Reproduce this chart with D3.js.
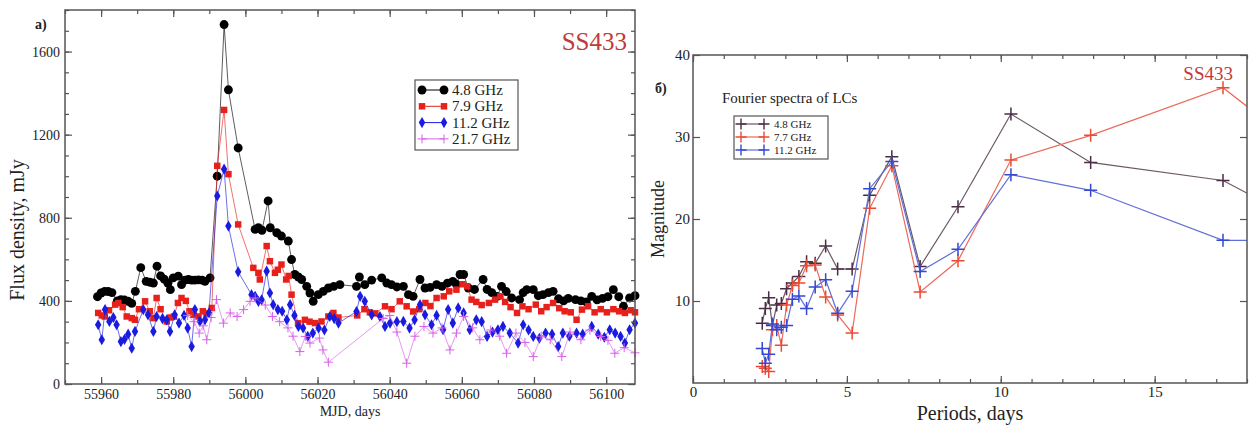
<!DOCTYPE html>
<meta charset="utf-8">
<head>
<style>
  body { margin: 0; background: #fff; }
  text { font-family: "Liberation Serif", "Times New Roman", serif; fill: #222; }
</style>
</head>

<script src="https://d3js.org/d3.v7.min.js"></script>

<body>
  <div id="chart"></div>
</body>

<script>

// ---------- panel a) light curves, MJD vs flux (mJy) ----------
var mjd48 = [55959, 55960, 55961, 55962, 55963, 55964.5, 55965.5, 55966.5, 55967.5, 55968.5, 55969.5, 55971, 55972.5, 55973.5, 55974.5, 55975.5, 55976.5, 55977.5, 55978.5, 55979.2, 55980, 55981.4, 55982.3, 55983.3, 55984.2, 55985.1, 55986, 55987, 55988, 55988.8, 55990.2, 55992.2, 55994.1, 55995.3, 55998, 56002.7, 56003.6, 56004.6, 56006.3, 56006.9, 56008.7, 56010, 56011.9, 56012.8, 56013.7, 56014.7, 56015.6, 56017, 56017.9, 56018.8, 56020.2, 56021.6, 56023, 56024.5, 56026.2, 56030.8, 56031.6, 56033.1, 56035, 56037.8, 56039.2, 56040.5, 56042, 56043.8, 56045.2, 56046.5, 56048.4, 56049.8, 56051.2, 56053, 56054.5, 56056, 56057.5, 56058.5, 56059.5, 56060.5, 56061.8, 56063.5, 56065.9, 56067, 56068.3, 56069.8, 56071, 56072.3, 56073.8, 56076, 56077, 56078, 56079.8, 56081.2, 56082.5, 56084, 56085.3, 56086.8, 56088.2, 56089.5, 56091.5, 56093, 56094.5, 56096, 56097.5, 56099, 56100.5, 56102, 56103.5, 56104.8, 56106.5, 56108];
var flux48 = [420, 438, 446, 445, 440, 400, 406, 404, 398, 388, 446, 560, 494, 490, 486, 567, 520, 505, 486, 454, 511, 519, 478, 500, 503, 500, 500, 501, 500, 494, 511, 1000, 1730, 1416, 1136, 744, 752, 740, 881, 752, 728, 712, 688, 599, 527, 515, 503, 470, 438, 398, 430, 446, 462, 470, 478, 470, 515, 478, 500, 511, 486, 478, 467, 470, 430, 422, 503, 462, 465, 478, 470, 485, 494, 480, 527, 527, 462, 455, 503, 455, 440, 422, 470, 445, 414, 406, 440, 454, 454, 425, 430, 440, 446, 410, 400, 412, 406, 400, 395, 422, 405, 412, 420, 454, 420, 374, 414, 425];

var mjd79 = [55959.2, 55960.2, 55961, 55962.2, 55963.9, 55964.8, 55966, 55967.1, 55968.5, 55969.4, 55970.5, 55972.2, 55973.5, 55974.5, 55975.4, 55976.5, 55978.2, 55979.2, 55980.2, 55981.3, 55982.3, 55983.5, 55984.5, 55985.6, 55987, 55988.2, 55989.2, 55990.7, 55992.2, 55994.1, 55995.3, 55998, 56002.2, 56003.6, 56004, 56005.9, 56006.8, 56008.2, 56009, 56010, 56011.3, 56012, 56012.8, 56014.6, 56016.5, 56017.8, 56019.3, 56021.1, 56023, 56024.4, 56025.8, 56031, 56033, 56034.5, 56036, 56038.7, 56040.5, 56042.8, 56044.7, 56046.5, 56048.2, 56049.9, 56051.3, 56053, 56055, 56056.5, 56058.5, 56060.2, 56061.5, 56062.7, 56064, 56065.5, 56067.5, 56069.2, 56070.7, 56072, 56073.5, 56075.3, 56076.8, 56078.5, 56080.5, 56082, 56083.5, 56085.3, 56087, 56088.5, 56090.2, 56091.8, 56093.3, 56095, 56096.8, 56098.5, 56100.2, 56102, 56103.6, 56105.2, 56106.8, 56108];
var flux79 = [342, 330, 325, 355, 382, 390, 370, 325, 317, 309, 360, 398, 350, 317, 414, 360, 301, 320, 325, 390, 414, 400, 350, 333, 325, 350, 340, 366, 1050, 1319, 1010, 768, 559, 535, 503, 664, 591, 535, 550, 575, 503, 520, 430, 293, 309, 300, 293, 301, 325, 342, 320, 330, 360, 345, 340, 374, 360, 398, 374, 349, 360, 390, 375, 414, 422, 446, 454, 480, 470, 406, 395, 380, 390, 406, 422, 395, 370, 342, 374, 360, 382, 350, 370, 390, 365, 350, 345, 309, 358, 374, 345, 360, 345, 360, 350, 342, 355, 345];

var mjd112 = [55959.2, 55960.2, 55961.1, 55962.3, 55963.4, 55964.3, 55965.5, 55966.5, 55967.5, 55968.5, 55969.4, 55971.7, 55973, 55974.5, 55975.4, 55977, 55978.2, 55979.1, 55980.4, 55981.6, 55983, 55984, 55985.1, 55986, 55987.4, 55988.8, 55989.9, 55992.2, 55994.1, 55995.3, 55998, 56001.7, 56002.7, 56003.6, 56004.5, 56005.9, 56006.8, 56007.7, 56009, 56010.2, 56011.5, 56012.4, 56013.6, 56014.7, 56016, 56017.3, 56018.7, 56020.3, 56021.9, 56023.4, 56024.6, 56025.8, 56030.8, 56031.8, 56033.1, 56035, 56037.3, 56038.7, 56040.1, 56042, 56043.8, 56045.5, 56046.9, 56048.4, 56049.8, 56051.6, 56053, 56054.8, 56056.2, 56057.5, 56059, 56060.5, 56062.2, 56064, 56065.5, 56067, 56068.5, 56070, 56071.4, 56073.3, 56075.6, 56077, 56078.5, 56079.8, 56081.5, 56083.2, 56085, 56086.7, 56088, 56089.8, 56091.8, 56093.5, 56096, 56097.8, 56099.5, 56101, 56102.5, 56104, 56105.2, 56106.5, 56108];
var flux112 = [285, 213, 358, 301, 320, 285, 204, 215, 240, 172, 253, 358, 333, 253, 325, 315, 309, 253, 333, 293, 330, 269, 180, 358, 301, 309, 342, 905, 1034, 760, 540, 430, 422, 398, 405, 543, 438, 382, 358, 350, 309, 382, 330, 277, 270, 229, 245, 269, 260, 325, 315, 293, 349, 422, 398, 333, 325, 277, 293, 300, 301, 269, 309, 382, 333, 285, 330, 261, 358, 293, 366, 342, 261, 309, 300, 229, 250, 261, 277, 245, 197, 285, 260, 229, 220, 245, 240, 180, 245, 230, 245, 240, 277, 240, 225, 261, 245, 229, 197, 261, 293];

var mjd217 = [55984, 55985.8, 55987.2, 55988.3, 55989.3, 55990.5, 55992, 55993.9, 55995.8, 55997.7, 55999.5, 56001.3, 56002.7, 56005.5, 56007.5, 56009.5, 56011.8, 56013.2, 56015.1, 56016.6, 56017.9, 56020.5, 56021.5, 56023, 56038.2, 56040, 56042, 56044.7, 56047, 56049.5, 56052, 56054.5, 56056.7, 56058.5, 56060.5, 56063, 56065, 56068, 56070.5, 56072.4, 56075, 56077.5, 56079.8, 56082, 56084.5, 56087.7, 56090, 56093, 56095.5, 56098.5, 56100.5, 56102.4, 56105, 56108];
var flux217 = [330, 300, 245, 280, 213, 320, 406, 293, 342, 325, 358, 398, 414, 380, 325, 300, 270, 230, 156, 229, 197, 221, 164, 105, 315, 330, 250, 100, 230, 277, 245, 270, 164, 245, 325, 270, 213, 260, 230, 148, 245, 200, 132, 230, 213, 132, 250, 213, 260, 229, 210, 148, 175, 150];

var xTicksA = [55960, 55980, 56000, 56020, 56040, 56060, 56080, 56100];
var yTicksA = [0, 400, 800, 1200, 1600];
var legendA = ["4.8 GHz", "7.9 GHz", "11.2 GHz", "21.7 GHz"];

// ---------- panel b) Fourier spectra, period vs magnitude ----------
var periods = [2.25, 2.35, 2.46, 2.58, 2.72, 2.87, 3.04, 3.23, 3.44, 3.69, 3.97, 4.31, 4.70, 5.17, 5.74, 6.46, 7.38, 8.61, 10.33, 12.92, 17.22, 25.83];
var mag48 = [7.3, 9.1, 10.4, 7.0, 9.5, 9.7, 11.5, 12.2, 13.0, 14.8, 14.6, 16.7, 13.9, 13.9, 22.9, 27.6, 14.2, 21.5, 32.8, 26.9, 24.7, 7.6];
var mag77 = [2.0, 1.8, 1.4, 6.5, 7.0, 4.6, 9.5, 11.9, 12.2, 14.3, 14.4, 10.5, 8.3, 6.1, 21.3, 26.5, 11.1, 14.9, 27.2, 30.2, 36.0, 11.0];
var mag112 = [4.2, 2.4, 3.5, 7.2, 6.5, 6.8, 7.0, 10.2, 10.6, 9.1, 11.7, 12.6, 8.5, 11.2, 23.7, 27.0, 13.6, 16.3, 25.4, 23.5, 17.4, 17.4];

var xTicksB = [0, 5, 10, 15];
var yTicksB = [10, 20, 30, 40];
var legendB = ["4.8 GHz", "7.7 GHz", "11.2 GHz"];


var svg = d3.select("#chart")
  .append("svg")
    .attr("width", 1257)
    .attr("height", 428);

// draws a closed frame with inward ticks on all four sides
function frame(x, y, xMaj, xMin, yMaj, yMin, fs, pad) {
  var xl = x.range()[0], xr = x.range()[1], yb = y.range()[0], yt = y.range()[1];
  var g = svg.append("g");

  function put(axis, tr, vals, size, labels) {
    var a = g.append("g")
      .attr("transform", tr)
      .call(axis.tickValues(vals).tickSize(size).tickPadding(pad)
        .tickFormat(labels ? d3.format("d") : ""));
    a.select(".domain").remove();
    a.selectAll("line").attr("stroke", "#555").attr("stroke-width", 1.2);
    a.selectAll("text").attr("font-size", fs).attr("fill", "#222")
      .style("font-family", "'Liberation Serif', serif");
  }

  put(d3.axisBottom(x), "translate(0," + yb + ")", xMin, -4, false);
  put(d3.axisBottom(x), "translate(0," + yb + ")", xMaj, -7, true);
  put(d3.axisTop(x), "translate(0," + yt + ")", xMin, -4, false);
  put(d3.axisTop(x), "translate(0," + yt + ")", xMaj, -7, false);
  put(d3.axisLeft(y), "translate(" + xl + ",0)", yMin, -4, false);
  put(d3.axisLeft(y), "translate(" + xl + ",0)", yMaj, -7, true);
  put(d3.axisRight(y), "translate(" + xr + ",0)", yMin, -4, false);
  put(d3.axisRight(y), "translate(" + xr + ",0)", yMaj, -7, false);

  g.append("rect")
    .attr("x", xl).attr("y", yt)
    .attr("width", xr - xl).attr("height", yb - yt)
    .attr("fill", "none").attr("stroke", "#555").attr("stroke-width", 1.5);
}

var crossPath = function(s) { return "M" + (-s) + ",0H" + s + "M0," + (-s) + "V" + s; };

// ================= panel a) =================
var xA = d3.scaleLinear().domain([55950, 56108]).range([65, 635]);
var yA = d3.scaleLinear().domain([0, 1800]).range([384, 10]);

var seriesA = [
  {mjd: mjd48, flux: flux48, color: "#000000", shape: "circle"},
  {mjd: mjd79, flux: flux79, color: "#e8201c", shape: "square"},
  {mjd: mjd112, flux: flux112, color: "#1a1ae0", shape: "diamond"},
  {mjd: mjd217, flux: flux217, color: "#d860e8", shape: "cross"}
];

function marker(sel, shape, color) {
  if (shape == "cross") {
    sel.append("path").attr("d", crossPath(4.5))
      .attr("stroke", color).attr("stroke-width", 1).attr("fill", "none");
  } else {
    var t = shape == "circle" ? d3.symbolCircle : shape == "square" ? d3.symbolSquare : d3.symbolDiamond;
    var sz = shape == "circle" ? 62 : shape == "square" ? 42 : 36;
    sel.append("path").attr("d", d3.symbol().type(t).size(sz)).attr("fill", color);
  }
}

var lineA = d3.line()
  .x(function(d) { return xA(d[0]); })
  .y(function(d) { return yA(d[1]); });

seriesA.forEach(function(s) {
  var pts = d3.zip(s.mjd, s.flux);
  svg.append("path")
    .datum(pts)
    .attr("d", lineA)
    .attr("fill", "none")
    .attr("stroke", s.color)
    .attr("stroke-width", 0.8)
    .attr("opacity", 0.8);
  svg.append("g")
    .selectAll("g")
    .data(pts)
    .enter()
    .append("g")
      .attr("transform", function(d) { return "translate(" + xA(d[0]) + "," + yA(d[1]) + ")"; })
      .each(function() { marker(d3.select(this), s.shape, s.color); });
});

frame(xA, yA, xTicksA, d3.range(55950, 56110, 10), yTicksA, d3.range(0, 1801, 100), 14, 5);

svg.append("text")
  .attr("x", -230).attr("y", 24)
  .attr("transform", "rotate(-90)")
  .attr("text-anchor", "middle")
  .attr("font-size", 20)
  .text("Flux density, mJy");

svg.append("text")
  .attr("x", 350).attr("y", 416)
  .attr("text-anchor", "middle")
  .attr("font-size", 14)
  .text("MJD, days");

svg.append("text")
  .attr("x", 35).attr("y", 29)
  .attr("font-size", 14)
  .attr("font-weight", "bold")
  .text("a)");

svg.append("text")
  .attr("x", 627).attr("y", 50)
  .attr("text-anchor", "end")
  .attr("font-size", 25)
  .style("fill", "#c03a3a")
  .text("SS433");

// legend a)
svg.append("rect")
  .attr("x", 415).attr("y", 80).attr("width", 103).attr("height", 70)
  .attr("fill", "#fff").attr("stroke", "#555").attr("stroke-width", 1.2);

seriesA.forEach(function(s, i) {
  var ly = 90 + i * 16.3;
  svg.append("line")
    .attr("x1", 422).attr("x2", 444).attr("y1", ly).attr("y2", ly)
    .attr("stroke", s.color).attr("stroke-width", 1);
  [422, 444].forEach(function(lx) {
    marker(svg.append("g").attr("transform", "translate(" + lx + "," + ly + ")"), s.shape, s.color);
  });
  svg.append("text")
    .attr("x", 452).attr("y", ly + 5)
    .attr("font-size", 15)
    .text(legendA[i]);
});

// ================= panel b) =================
var xB = d3.scaleLinear().domain([0, 18]).range([693, 1247]);
var yB = d3.scaleLinear().domain([0, 40]).range([383, 55]);

svg.append("clipPath").attr("id", "clipB")
  .append("rect").attr("x", 693).attr("y", 55).attr("width", 554).attr("height", 328);

var seriesB = [
  {mag: mag48, color: "#4a2c44", line: "#6a5866"},
  {mag: mag77, color: "#ec4a34", line: "#ec6a5a"},
  {mag: mag112, color: "#3448d0", line: "#6070d8"}
];

var lineB = d3.line()
  .x(function(d) { return xB(d[0]); })
  .y(function(d) { return yB(d[1]); });

var plotB = svg.append("g").attr("clip-path", "url(#clipB)");

seriesB.forEach(function(s) {
  var pts = d3.zip(periods, s.mag);
  plotB.append("path")
    .datum(pts)
    .attr("d", lineB)
    .attr("fill", "none")
    .attr("stroke", s.line)
    .attr("stroke-width", 1.2);
  plotB.append("g")
    .selectAll("path")
    .data(pts)
    .enter()
    .append("path")
      .attr("transform", function(d) { return "translate(" + xB(d[0]) + "," + yB(d[1]) + ")"; })
      .attr("d", crossPath(6.5))
      .attr("stroke", s.color)
      .attr("stroke-width", 1.5)
      .attr("fill", "none");
});

frame(xB, yB, xTicksB, d3.range(0, 18.1, 1), yTicksB, [], 15, 3);

svg.append("text")
  .attr("x", -219).attr("y", 664)
  .attr("transform", "rotate(-90)")
  .attr("text-anchor", "middle")
  .attr("font-size", 18)
  .text("Magnitude");

svg.append("text")
  .attr("x", 970).attr("y", 420)
  .attr("text-anchor", "middle")
  .attr("font-size", 20)
  .text("Periods, days");

svg.append("text")
  .attr("x", 655).attr("y", 93)
  .attr("font-size", 14)
  .attr("font-weight", "bold")
  .text("б)");

svg.append("text")
  .attr("x", 722).attr("y", 103)
  .attr("font-size", 15)
  .text("Fourier spectra of LCs");

svg.append("text")
  .attr("x", 1233).attr("y", 80)
  .attr("text-anchor", "end")
  .attr("font-size", 19)
  .style("fill", "#c03a3a")
  .text("SS433");

// legend b)
svg.append("rect")
  .attr("x", 734).attr("y", 116).attr("width", 94).attr("height", 43)
  .attr("fill", "#fff").attr("stroke", "#555").attr("stroke-width", 1.2);

seriesB.forEach(function(s, i) {
  var ly = 124 + i * 13;
  svg.append("line")
    .attr("x1", 741).attr("x2", 764).attr("y1", ly).attr("y2", ly)
    .attr("stroke", s.line).attr("stroke-width", 1.2);
  [741, 764].forEach(function(lx) {
    svg.append("path")
      .attr("transform", "translate(" + lx + "," + ly + ")")
      .attr("d", crossPath(5.5))
      .attr("stroke", s.color).attr("stroke-width", 1.4).attr("fill", "none");
  });
  svg.append("text")
    .attr("x", 774).attr("y", ly + 4)
    .attr("font-size", 11)
    .text(legendB[i]);
});

</script>
